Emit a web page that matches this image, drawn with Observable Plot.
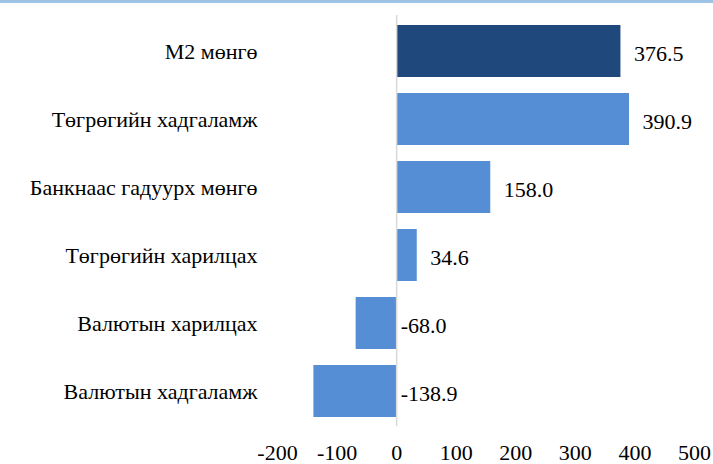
<!DOCTYPE html>
<html>
<head>
<meta charset="utf-8">
<script src="https://cdn.jsdelivr.net/npm/d3@7"></script>
<script src="https://cdn.jsdelivr.net/npm/@observablehq/plot@0.6"></script>
<style>
  html, body { margin: 0; padding: 0; background: #fff; }
  #top { height: 3px; background: #9DC3E6; width: 713px; }
  #chart { width: 713px; }
</style>
</head>
<body>
<div id="top"></div>
<div id="chart"></div>
<script>
const categories = ["M2 мөнгө", "Төгрөгийн хадгаламж", "Банкнаас гадуурх мөнгө", "Төгрөгийн харилцах", "Валютын харилцах", "Валютын хадгаламж"];
const values = [376.5, 390.9, 158.0, 34.6, -68.0, -138.9];
const labels = ["376.5", "390.9", "158.0", "34.6", "-68.0", "-138.9"];
const xTicks = [-200, -100, 0, 100, 200, 300, 400, 500];
const colors = ["#1F497D", "#558ED5", "#558ED5", "#558ED5", "#558ED5", "#558ED5"];

const data = categories.map((c, i) => ({cat: c, v: values[i], label: labels[i], color: colors[i]}));
const font = "'Liberation Serif', 'Times New Roman', serif";
const fmt = d => String(d);

const chart = Plot.plot({
  width: 713,
  height: 461,
  marginTop: 12,
  marginBottom: 38,
  marginLeft: 277,
  marginRight: 19,
  style: {fontFamily: font, fontSize: "22px", color: "#000", background: "#fff"},
  x: {domain: [-200, 500], ticks: xTicks, tickFormat: fmt},
  y: {domain: categories, paddingInner: 0.24, paddingOuter: 0.12},
  marks: [
    Plot.barX(data, {y: "cat", x: "v", fill: "color"}),
    Plot.ruleX([0], {stroke: "#D9D9D9", strokeWidth: 1.5}),
    Plot.text(data.filter(d => d.v >= 0), {y: "cat", x: "v", text: "label", textAnchor: "start", dx: 13, dy: 2, fontSize: 22, fill: "#000"}),
    Plot.text(data.filter(d => d.v < 0), {y: "cat", x: 0, text: "label", textAnchor: "start", dx: 4, dy: 2, fontSize: 22, fill: "#000"}),
    Plot.axisY({tickSize: 0, tickPadding: 20, fontSize: 22, label: null}),
    Plot.axisX({anchor: "bottom", ticks: xTicks, tickFormat: fmt, tickSize: 0, tickPadding: 18, fontSize: 22, label: null})
  ]
});
document.getElementById("chart").appendChild(chart);
</script>
</body>
</html>
